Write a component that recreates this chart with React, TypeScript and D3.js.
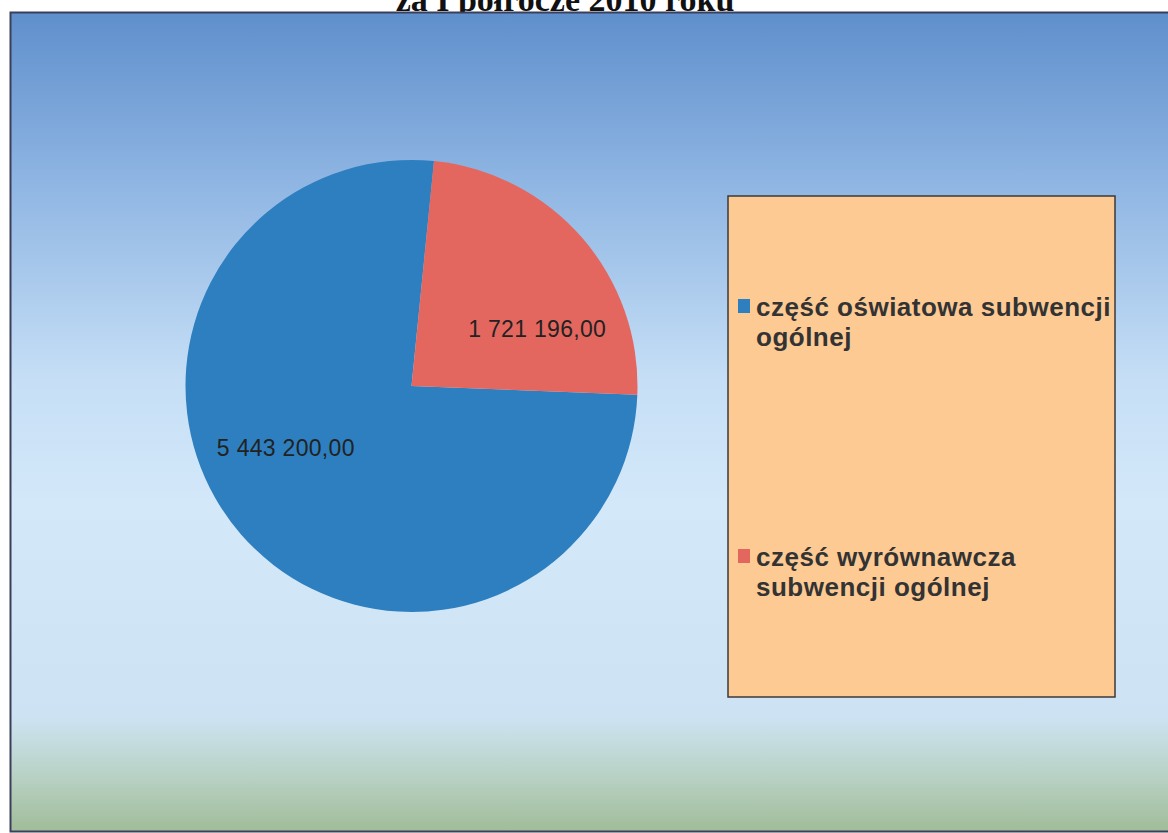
import React from "react";
import * as d3 from "d3";

const categories = [
  "część oświatowa subwencji ogólnej",
  "część wyrównawcza subwencji ogólnej",
];
const values = [5443200.0, 1721196.0];
const valueLabels = ["5 443 200,00", "1 721 196,00"];
const legendLines = [
  ["część oświatowa subwencji", "ogólnej"],
  ["część wyrównawcza", "subwencji ogólnej"],
];
const colors = ["#2d7fc0", "#e4675f"];
const title = "za I półrocze 2010 roku";

const W = 1168;
const H = 833;

export default function App() {
  const cx = 411.5;
  const cy = 386;
  const R = 226;
  const start = (92.2 * Math.PI) / 180;
  const pie = d3
    .pie<number>()
    .sort(null)
    .value((d) => d)
    .startAngle(start)
    .endAngle(start + 2 * Math.PI);
  const arcs = pie(values);
  const arc = d3.arc<d3.PieArcDatum<number>>().innerRadius(0).outerRadius(R);
  const labelR = R * 0.615;
  const labelOffset = (15.8 * Math.PI) / 180;

  const legendX = 728;
  const legendY = 196;
  const legendW = 387;
  const legendH = 501;
  const itemY = d3.scaleLinear().domain([0, 1]).range([316, 566]);

  return (
    <svg
      width={W}
      height={H}
      style={{ position: "absolute", left: 0, top: 0, background: "#fff" }}
    >
      <defs>
        <linearGradient id="bg" x1="0" y1="0" x2="0" y2="1">
          <stop offset="0" stopColor="#5f8fcc" />
          <stop offset="0.2" stopColor="#8db4e2" />
          <stop offset="0.45" stopColor="#c6dff6" />
          <stop offset="0.6" stopColor="#d3e8f9" />
          <stop offset="0.86" stopColor="#cde3f3" />
          <stop offset="0.93" stopColor="#b9d2c6" />
          <stop offset="1" stopColor="#a0bc98" />
        </linearGradient>
      </defs>
      <rect x={0} y={0} width={W} height={H} fill="#fff" />
      <text
        x={565}
        y={11}
        textAnchor="middle"
        fontFamily="'Liberation Serif', 'Times New Roman', serif"
        fontWeight="bold"
        fontSize={34}
        fill="#111"
      >
        {title}
      </text>
      <rect
        x={10.5}
        y={12.5}
        width={1170}
        height={819}
        fill="url(#bg)"
        stroke="#3a3f5a"
        strokeWidth={2}
      />
      <g transform={`translate(${cx},${cy})`}>
        {arcs.map((a, i) => (
          <path key={i} d={arc(a) || ""} fill={colors[i]} />
        ))}
        {arcs.map((a, i) => {
          const ang = (a.startAngle + a.endAngle) / 2 + labelOffset;
          const x = labelR * Math.sin(ang);
          const y = -labelR * Math.cos(ang);
          return (
            <text
              key={i}
              x={x}
              y={y}
              dy="0.45em"
              textAnchor="middle"
              fontFamily="'Liberation Sans', Arial, sans-serif"
              fontSize={23}
              letterSpacing={0.3}
              fill="#222"
            >
              {valueLabels[i]}
            </text>
          );
        })}
      </g>
      <rect
        x={legendX}
        y={legendY}
        width={legendW}
        height={legendH}
        fill="#fdca94"
        stroke="#3a3a3a"
        strokeWidth={1.5}
      />
      {categories.map((c, i) => {
        const by = itemY(i);
        return (
          <g key={c}>
            <rect x={738} y={by - 17} width={12} height={14} fill={colors[i]} />
            {legendLines[i].map((line, j) => (
              <text
                key={j}
                x={756}
                y={by + j * 30}
                fontFamily="'Liberation Sans', Arial, sans-serif"
                fontWeight="bold"
                fontSize={26}
                letterSpacing={0.5}
                fill="#333"
              >
                {line}
              </text>
            ))}
          </g>
        );
      })}
    </svg>
  );
}
